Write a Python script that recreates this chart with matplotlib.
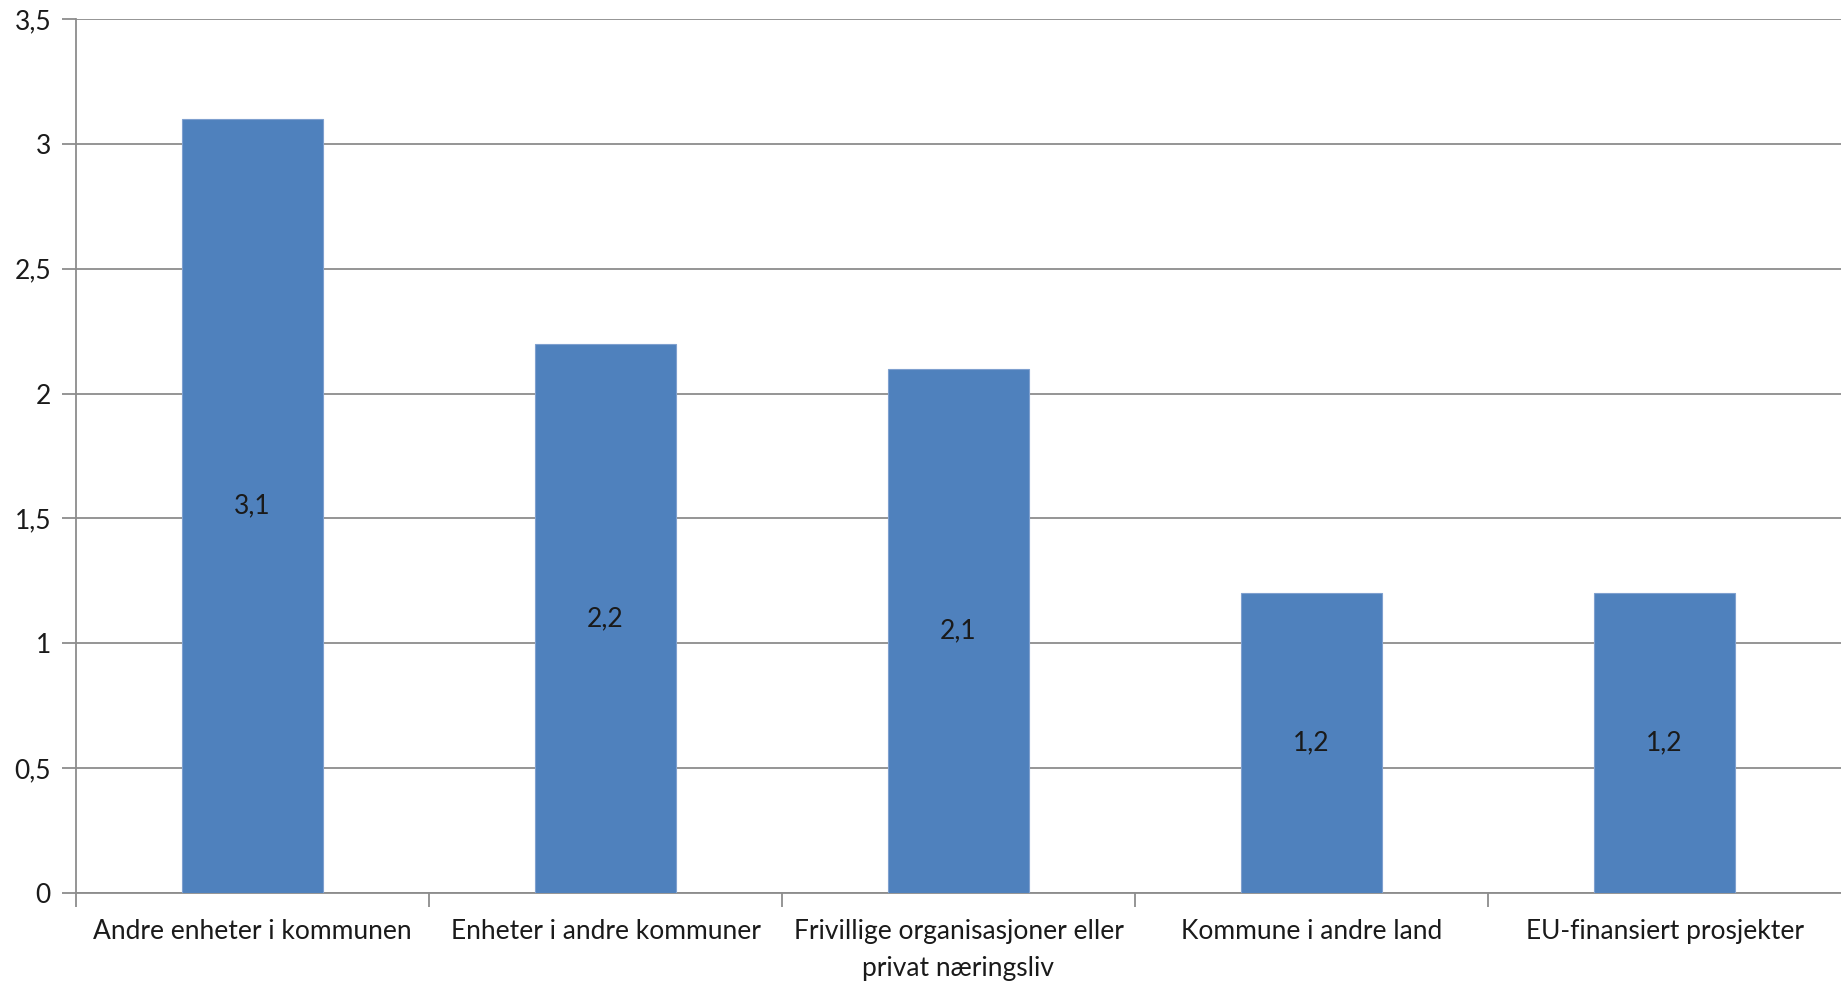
import matplotlib
matplotlib.use('Agg')
import matplotlib.pyplot as plt
import numpy as np

# data
categories = ['Andre enheter i kommunen',
              'Enheter i andre kommuner',
              'Frivillige organisasjoner eller\nprivat næringsliv',
              'Kommune i andre land',
              'EU-finansiert prosjekter']
values = [3.1, 2.2, 2.1, 1.2, 1.2]
yticks = [0, 0.5, 1, 1.5, 2, 2.5, 3, 3.5]

BAR = '#4F81BD'
GRID = '#8C8C8C'
TXT = '#1a1a1a'

plt.rcParams['font.family'] = ['Lato', 'DejaVu Sans']

fig = plt.figure(figsize=(18.41, 9.81), dpi=100, facecolor='white')
ax = fig.add_axes([76 / 1841, 1 - 893 / 981, 1 - 76 / 1841, (893 - 19) / 981])

x = np.arange(len(values))
bars = ax.bar(x, values, width=0.4, color=BAR, edgecolor='#7FA0CF',
              linewidth=0.8, zorder=3)

for b, v in zip(bars, values):
    ax.text(b.get_x() + b.get_width() / 2, v / 2, f'{v:.1f}'.replace('.', ','),
            ha='center', va='center', fontsize=19, color=TXT, zorder=4)

ax.set_xlim(-0.5, len(values) - 0.5)
ax.set_ylim(0, 3.5)
ax.set_yticks(yticks)
ax.set_yticklabels([f'{t:g}'.replace('.', ',') for t in yticks])
ax.yaxis.grid(True, color=GRID, linewidth=1.3, zorder=0)
ax.set_axisbelow(True)

# category ticks sit on the boundaries, labels in the middle
ax.set_xticks(np.arange(len(values)) - 0.5)
ax.set_xticklabels([])
ax.set_xticks(x, minor=True)
ax.set_xticklabels(categories, minor=True, fontsize=19, color=TXT,
                   linespacing=1.6, va='top')
ax.tick_params(axis='x', which='minor', length=0, pad=19)
ax.tick_params(axis='x', which='major', length=10, width=1.3, color=GRID)
ax.tick_params(axis='y', length=10, width=1.3, color=GRID,
               labelsize=19, labelcolor=TXT, pad=8)

for s in ['top', 'right']:
    ax.spines[s].set_visible(False)
for s in ['left', 'bottom']:
    ax.spines[s].set_color(GRID)
    ax.spines[s].set_linewidth(1.3)

plt.savefig('out.png', dpi=100, facecolor='white')
